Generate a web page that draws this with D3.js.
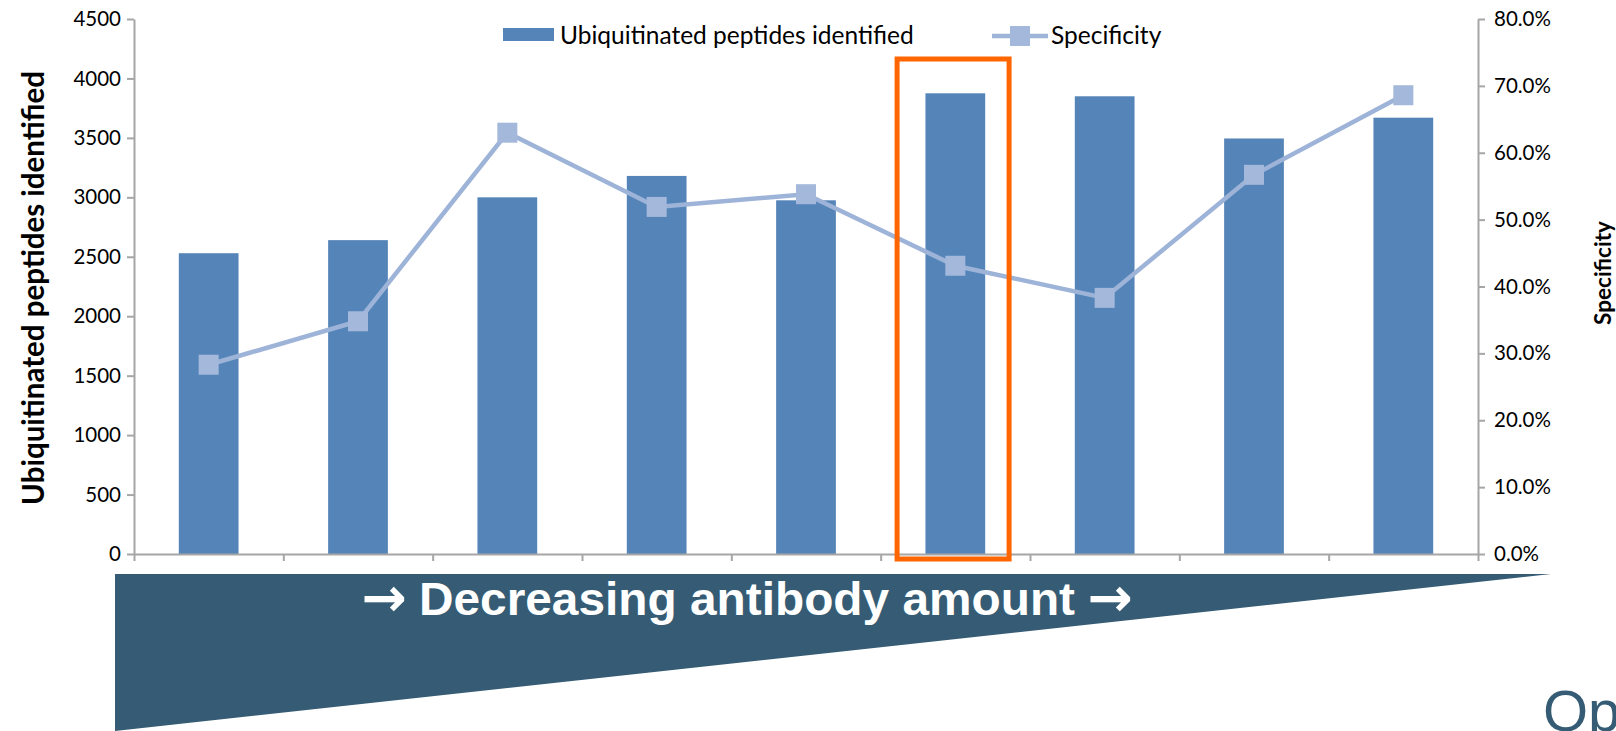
<!DOCTYPE html>
<html>
<head>
<meta charset="utf-8">
<script src="https://cdn.jsdelivr.net/npm/d3@7"></script>
<style>
  body { margin: 0; background: #fff; }
  svg { display: block; }
  .axis path, .axis line { stroke: #a6a6a6; stroke-width: 2px; }
  .axis text { font-family: Lato, "Open Sans", sans-serif; font-size: 20.5px; fill: #000; }
</style>
</head>
<body>
<div class="chart"></div>
<script>
// Ubiquitinated peptides vs specificity, decreasing antibody amount
var categories = ["1", "2", "3", "4", "5", "6", "7", "8", "9"];
var peptides = [2530, 2640, 3000, 3180, 2975, 3875, 3850, 3495, 3670];
var specificity = [0.283, 0.348, 0.630, 0.519, 0.538, 0.431, 0.383, 0.567, 0.686];
var leftTicks = [0, 500, 1000, 1500, 2000, 2500, 3000, 3500, 4000, 4500];
var rightTicks = [0, 0.1, 0.2, 0.3, 0.4, 0.5, 0.6, 0.7, 0.8];
var highlighted = "6";

var width = 1616, height = 731;
var margin = { top: 19, right: 138, bottom: 177, left: 134 },
    w = width - margin.left - margin.right,
    h = height - margin.top - margin.bottom;

var svg = d3.select('.chart')
    .append('svg')
    .attr("width", width)
    .attr("height", height);

// wedge behind the x axis
svg.append("polygon")
    .attr("points", "115,574 1551,574 115,731")
    .attr("fill", "#355c74");

var arrowFont = "'DejaVu Sans', sans-serif";
svg.append("text")
    .attr("x", 384).attr("y", 616)
    .attr("text-anchor", "middle")
    .style("font-family", arrowFont)
    .style("font-weight", "bold")
    .style("font-size", "54px")
    .style("fill", "#fff")
    .text("\u2192");

svg.append("text")
    .attr("x", 747)
    .attr("y", 615)
    .attr("text-anchor", "middle")
    .attr("textLength", 656)
    .attr("lengthAdjust", "spacingAndGlyphs")
    .style("font-family", "'Liberation Sans Narrow', 'Liberation Sans', Arial, sans-serif")
    .style("font-weight", "bold")
    .style("font-size", "47px")
    .style("fill", "#fff")
    .text("Decreasing antibody amount");

svg.append("text")
    .attr("x", 1110).attr("y", 616)
    .attr("text-anchor", "middle")
    .style("font-family", arrowFont)
    .style("font-weight", "bold")
    .style("font-size", "54px")
    .style("fill", "#fff")
    .text("\u2192");

svg.append("text")
    .attr("x", 1543)
    .attr("y", 731)
    .style("font-family", "'Liberation Sans', Arial, sans-serif")
    .style("font-size", "58px")
    .style("fill", "#355c74")
    .text("Op");

var g = svg.append("g")
    .attr("transform", "translate(" + margin.left + "," + margin.top + ")");

var x = d3.scaleBand()
    .domain(categories)
    .range([0, w])
    .paddingInner(0.6)
    .paddingOuter(0.3);

var xTicks = d3.scaleLinear().domain([0, categories.length]).range([0, w]);

var yL = d3.scaleLinear().domain([0, 4500]).range([h, 0]);
var yR = d3.scaleLinear().domain([0, 0.8]).range([h, 0]);

g.selectAll("rect.bar")
    .data(peptides)
    .enter()
    .append("rect")
    .attr("class", "bar")
    .attr("fill", "#5585b8")
    .attr("x", function(d, i) { return x(categories[i]); })
    .attr("width", x.bandwidth())
    .attr("y", function(d) { return yL(d); })
    .attr("height", function(d) { return h - yL(d); });

g.append("g")
    .attr("class", "axis")
    .call(d3.axisLeft(yL).tickValues(leftTicks).tickSize(7).tickSizeOuter(0).tickPadding(6)
        .tickFormat(d3.format("d")));

g.append("g")
    .attr("class", "axis")
    .attr("transform", "translate(" + w + ",0)")
    .call(d3.axisRight(yR).tickValues(rightTicks).tickSize(7).tickSizeOuter(0).tickPadding(9)
        .tickFormat(d3.format(".1%")));

g.append("g")
    .attr("class", "axis")
    .attr("transform", "translate(0," + h + ")")
    .call(d3.axisBottom(xTicks).tickValues(d3.range(categories.length + 1)).tickSize(7).tickSizeOuter(0).tickFormat(""));

var line = d3.line()
    .x(function(d, i) { return x(categories[i]) + x.bandwidth() / 2; })
    .y(function(d) { return yR(d); });

g.append("path")
    .datum(specificity)
    .attr("fill", "none")
    .attr("stroke", "#9db3d8")
    .attr("stroke-width", 4.5)
    .attr("d", line);

g.selectAll("rect.marker")
    .data(specificity)
    .enter()
    .append("rect")
    .attr("class", "marker")
    .attr("fill", "#a3b8da")
    .attr("x", function(d, i) { return x(categories[i]) + x.bandwidth() / 2 - 10; })
    .attr("y", function(d) { return yR(d) - 10; })
    .attr("width", 20)
    .attr("height", 20);

// highlight box round the chosen bar
var hx = x(highlighted);
g.append("rect")
    .attr("x", hx - x.step() * 0.19)
    .attr("y", 40)
    .attr("width", x.bandwidth() + x.step() * 0.35)
    .attr("height", h + 5 - 40)
    .attr("fill", "none")
    .attr("stroke", "#ff6600")
    .attr("stroke-width", 5);

// axis titles
svg.append("text")
    .attr("transform", "translate(44,288) rotate(-90)")
    .attr("text-anchor", "middle")
    .style("font-family", "Lato, 'Open Sans', sans-serif")
    .style("font-weight", "bold")
    .style("font-size", "29.5px")
    .text("Ubiquitinated peptides identified");

svg.append("text")
    .attr("transform", "translate(1611,273) rotate(-90)")
    .attr("text-anchor", "middle")
    .style("font-family", "Lato, 'Open Sans', sans-serif")
    .style("font-weight", "bold")
    .style("font-size", "22.5px")
    .text("Specificity");

// legend
var legendFont = "Lato, 'Open Sans', sans-serif";
var legend = svg.append("g").attr("class", "legend");
legend.append("rect")
    .attr("x", 503).attr("y", 28).attr("width", 51).attr("height", 13)
    .attr("fill", "#5585b8");
legend.append("text")
    .attr("x", 560).attr("y", 44)
    .style("font-family", legendFont)
    .style("font-size", "24.5px")
    .text("Ubiquitinated peptides identified");
legend.append("line")
    .attr("x1", 992).attr("x2", 1048).attr("y1", 36).attr("y2", 36)
    .attr("stroke", "#9db3d8").attr("stroke-width", 4.5);
legend.append("rect")
    .attr("x", 1010).attr("y", 26).attr("width", 20).attr("height", 20)
    .attr("fill", "#a3b8da");
legend.append("text")
    .attr("x", 1051).attr("y", 44)
    .style("font-family", legendFont)
    .style("font-size", "24.5px")
    .text("Specificity");
</script>
</body>
</html>
